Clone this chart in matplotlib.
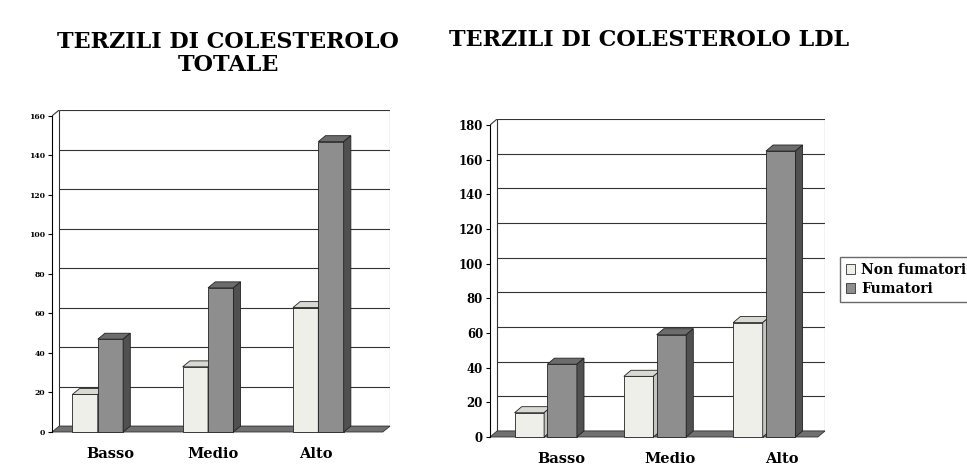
import numpy as np
import matplotlib.pyplot as plt
from matplotlib.patches import Polygon, Patch

categories = ['Basso', 'Medio', 'Alto']
series_names = ['Non fumatori', 'Fumatori']

tot_non_fum = [19, 33, 63]
tot_fum = [47, 73, 147]
ldl_non_fum = [14, 35, 66]
ldl_fum = [42, 59, 165]

tot_ticks = np.arange(0, 161, 20)
ldl_ticks = np.arange(0, 181, 20)

titles = ['TERZILI DI COLESTEROLO\nTOTALE', 'TERZILI DI COLESTEROLO LDL']

light = '#efefe9'
light_top = '#d9d9d4'
light_side = '#c4c4c0'
dark = '#8e8e8e'
dark_top = '#6c6c6c'
dark_side = '#505050'
floor_col = '#707070'

plt.rcParams['font.family'] = 'DejaVu Serif'
plt.rcParams['font.weight'] = 'bold'


def bar3d(ax, x, h, w, dx, dy, face, top, side):
    x0, x1 = x - w / 2, x + w / 2
    ax.add_patch(Polygon([(x0, 0), (x1, 0), (x1, h), (x0, h)], closed=True,
                         facecolor=face, edgecolor='#222222', lw=0.6, zorder=5, clip_on=False))
    ax.add_patch(Polygon([(x0, h), (x1, h), (x1 + dx, h + dy), (x0 + dx, h + dy)], closed=True,
                         facecolor=top, edgecolor='#222222', lw=0.6, zorder=5, clip_on=False))
    ax.add_patch(Polygon([(x1, 0), (x1 + dx, dy), (x1 + dx, h + dy), (x1, h)], closed=True,
                         facecolor=side, edgecolor='#222222', lw=0.6, zorder=5, clip_on=False))


def chart(ax, non_fum, fum, ticks, dy, offs, width, label_shift, tick_fs):
    dx = 0.065
    ymax = ticks[-1]
    xl, xr = -0.5, len(categories) - 0.5
    ax.set_xlim(xl, xr + dx)
    ax.set_ylim(0, ymax + dy)
    for s in ['top', 'right', 'bottom']:
        ax.spines[s].set_visible(False)
    ax.spines['left'].set_bounds(0, ymax)
    ax.spines['left'].set_linewidth(0.8)

    # back wall and gridlines
    ax.hlines(ticks + dy, xl + dx, xr + dx, color='#333333', lw=0.8, zorder=1)
    ax.vlines([xl + dx, xr + dx], dy, ymax + dy, color='#333333', lw=0.8, zorder=1)
    ax.plot([xl, xl + dx], [ymax, ymax + dy], color='#333333', lw=0.8, zorder=1)

    # floor
    ax.add_patch(Polygon([(xl, 0), (xr, 0), (xr + dx, dy), (xl + dx, dy)], closed=True,
                         facecolor=floor_col, edgecolor='#333333', lw=0.6, zorder=2, clip_on=False))

    pos = np.arange(len(categories))
    for i in pos:
        bar3d(ax, i + offs[0], non_fum[i], width, dx, dy, light, light_top, light_side)
        bar3d(ax, i + offs[1], fum[i], width, dx, dy, dark, dark_top, dark_side)

    ax.set_yticks(ticks)
    ax.tick_params(axis='y', labelsize=tick_fs, length=3, width=0.8, pad=2)
    ax.set_xticks(pos + np.asarray(label_shift))
    ax.set_xticklabels(categories, fontsize=10.5, fontweight='bold')
    ax.tick_params(axis='x', length=0, pad=11)


fig = plt.figure(figsize=(9.67, 4.71), dpi=100)
W, H = 967, 471

ax1 = fig.add_axes([52 / W, 1 - 432 / H, (390 - 52) / W, (432 - 110) / H])
chart(ax1, tot_non_fum, tot_fum, tot_ticks, 3, (-0.2, 0.03), 0.23, [0.03, -0.04, -0.11], 5.5)

ax2 = fig.add_axes([490 / W, 1 - 437 / H, (825 - 490) / W, (437 - 119) / H])
chart(ax2, ldl_non_fum, ldl_fum, ldl_ticks, 3.5, (-0.14, 0.16), 0.27, [0.15, 0.15, 0.17], 8.5)

fig.text(228 / W, 1 - 53.5 / H, titles[0], ha='center', va='center', fontsize=16,
         fontweight='bold', linespacing=1.05)
fig.text(649 / W, 1 - 40 / H, titles[1], ha='center', va='center', fontsize=16,
         fontweight='bold')

handles = [Patch(facecolor=light, edgecolor='#333333', lw=0.6),
           Patch(facecolor=dark, edgecolor='#333333', lw=0.6)]
fig.legend(handles, series_names, loc='upper left', bbox_to_anchor=(840 / W, 1 - 257 / H),
           frameon=True, fancybox=False, edgecolor='#444444',
           handlelength=0.7, handleheight=0.7, handletextpad=0.4, borderpad=0.4,
           labelspacing=0.4, borderaxespad=0, prop={'weight': 'bold', 'size': 10})

fig.savefig('out.png', dpi=100)
